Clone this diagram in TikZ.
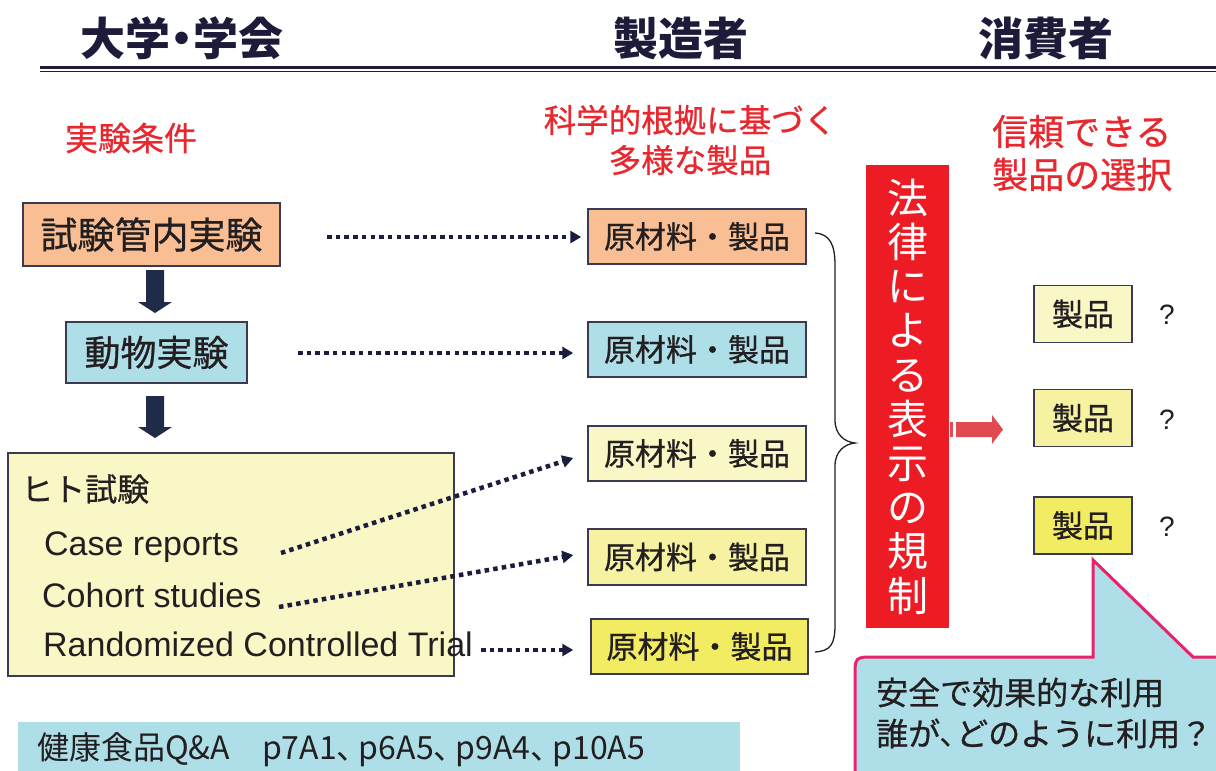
\documentclass[tikz,border=0pt]{standalone}
\usepackage{fontspec}
\setmainfont{Liberation Sans}
\newfontfamily\jp{Noto Sans CJK JP}
\newfontfamily\jpf{Noto Sans CJK JP}[FakeBold=0.7]
\newfontfamily\jpp{Noto Sans CJK JP}[RawFeature=+palt]
\usetikzlibrary{arrows.meta}
\definecolor{peach}{HTML}{F9BE93}
\definecolor{lblue}{HTML}{AEDEE8}
\definecolor{lyel}{HTML}{FAF7C7}
\definecolor{myel}{HTML}{F6F2A2}
\definecolor{dyel}{HTML}{F2EC62}
\definecolor{bord}{HTML}{3A3A55}
\definecolor{navy}{HTML}{1F2B48}
\definecolor{dotc}{HTML}{1B1D3F}
\definecolor{redbox}{HTML}{ED1C24}
\definecolor{redtxt}{HTML}{E8282F}
\definecolor{arrred}{HTML}{DF4B50}
\definecolor{pinkc}{HTML}{E6236D}
\definecolor{txt}{HTML}{231F20}
\definecolor{titlec}{HTML}{1C1C3A}
\tikzset{
  titlef/.style={inner sep=0pt, text=titlec, font=\jpp\bfseries\fontsize{45}{45}\selectfont},
  redhead/.style={inner sep=0pt, text=redtxt, font=\jpf\fontsize{32.5}{40}\selectfont},
  box/.style={draw=bord, line width=1.5pt, inner sep=0pt, text=txt, font=\jpf\fontsize{31}{31}\selectfont},
  latin/.style={inner sep=0pt, anchor=base west, text=txt, font=\fontsize{34}{34}\selectfont},
  dotarrow/.style={draw=dotc, line width=4.5pt, dash pattern=on 4.5pt off 4.2pt, -{Triangle[length=11pt,width=12pt]}},
  qmark/.style={inner sep=0pt, text=txt, font=\fontsize{28}{28}\selectfont},
}
\newcommand{\tten}{、\hspace{6pt}}
\begin{document}
\begin{tikzpicture}[x=1pt,y=-1pt]
\useasboundingbox (0,0) rectangle (1216,771);
\clip (0,0) rectangle (1216,771);
\fill[white] (0,0) rectangle (1216,771);

% titles
\node[titlef] (t1) at (182,38) {大学・学会};
\node[titlef] (t2) at (681,38) {製造者};
\node[titlef] (t3) at (1046,38) {消費者};
\draw[titlec, line width=3pt] (40,67) -- (1216,67);
\draw[titlec, line width=1.3pt] (40,71.5) -- (1216,71.5);

% red headings
\node[redhead, font=\jpf\fontsize{33}{33}\selectfont] (h1) at (131,138) {実験条件};
\node[redhead, align=center] (h2) at (690,140) {科学的根拠に基づく\\多様な製品};
\node[redhead, align=left, anchor=west, font=\jpf\fontsize{36}{43}\selectfont] (h3) at (992,153) {信頼できる\\製品の選択};

% left column
\node[box, fill=peach, minimum width=257pt, minimum height=63pt, font=\jpf\fontsize{37}{37}\selectfont] (tube) at (151.5,234.5) {試験管内実験};
\node[box, fill=lblue, minimum width=181pt, minimum height=61pt, font=\jpf\fontsize{36}{36}\selectfont] (animal) at (156.5,352.5) {動物実験};
\node[box, fill=lyel, minimum width=446pt, minimum height=223pt] (human) at (231,564.5) {};
\node[inner sep=0pt, anchor=west, text=txt, font=\jpf\fontsize{32}{32}\selectfont] (ht) at (21,489) {ヒト試験};
\node[latin] (cr) at (44,555) {Case reports};
\node[latin] (co) at (42,607) {Cohort studies};
\node[latin] (rct) at (43,656) {Randomized Controlled Trial};

% block arrows down
\fill[navy] (146,270) -- (164,270) -- (164,302) -- (172,302) -- (155,313) -- (138,302) -- (146,302) -- cycle;
\fill[navy] (146,396) -- (164,396) -- (164,427) -- (172,427) -- (155,438) -- (138,427) -- (146,427) -- cycle;

% products
\node[box, fill=peach, minimum width=218pt, minimum height=55pt] (p1) at (697,236.5) {原材料・製品};
\node[box, fill=lblue, minimum width=218pt, minimum height=55pt] (p2) at (697,349.5) {原材料・製品};
\node[box, fill=lyel, minimum width=218pt, minimum height=55pt] (p3) at (697,453.5) {原材料・製品};
\node[box, fill=myel, minimum width=218pt, minimum height=56pt] (p4) at (697,557) {原材料・製品};
\node[box, fill=dyel, minimum width=217pt, minimum height=55pt] (p5) at (699.5,646.5) {原材料・製品};

% dotted arrows
\coordinate (s1) at (327,237);
\coordinate (s2) at (298,353);
\coordinate (s3) at (281,553);
\coordinate (s4) at (279,607);
\coordinate (s5) at (481,650);
\draw[dotarrow] (s1) -- ([shift={(-6,0.5)}]p1.west);
\draw[dotarrow] (s2) -- ([shift={(-14,3.5)}]p2.west);
\draw[dotarrow] (s3) -- ([shift={(-14,4.5)}]p3.west);
\draw[dotarrow] (s4) -- ([shift={(-14,-2)}]p4.west);
\draw[dotarrow] (s5) -- ([shift={(-17,3.5)}]p5.west);

% brace
\draw[txt, line width=1.3pt] (815,233) .. controls (830,234) and (835,245) .. (835,265) -- (835,420)
  .. controls (835,435) and (845,442) .. (855,443) .. controls (845,444) and (835,451) .. (835,466)
  -- (835,625) .. controls (835,645) and (830,651) .. (815,652);

% red law box
\node[fill=redbox, minimum width=83pt, minimum height=463pt, inner sep=0pt, text=white, align=center,
  font=\jp\fontsize{41}{44.2}\selectfont] (law) at (907.5,396.5) {法\\律\\に\\よ\\る\\表\\示\\の\\規\\制};

% red arrow
\fill[arrred] (950,422) rectangle (953,437);
\fill[arrred] (956,422) -- (992,422) -- (992,415) -- (1003,429.5) -- (992,444) -- (992,437) -- (956,437) -- cycle;

% consumer products
\node[box, fill=lyel, minimum width=98pt, minimum height=57pt] (c1) at (1083,314) {製品};
\node[box, fill=myel, minimum width=98pt, minimum height=57pt] (c2) at (1083,418) {製品};
\node[box, fill=dyel, minimum width=98pt, minimum height=57pt] (c3) at (1083,525.5) {製品};
\node[qmark] (q1) at (1167,315) {?};
\node[qmark] (q2) at (1167,420) {?};
\node[qmark] (q3) at (1167,527) {?};

% callout
\filldraw[fill=lblue, draw=pinkc, line width=3pt] (1093,657) -- (1093,560) -- (1193,657) -- (1250,657) -- (1250,800) -- (855,800) -- (855,677) .. controls (855,657) .. (875,657) -- cycle;
\node[inner sep=0pt, anchor=west, align=left, text=txt, font=\jpf\fontsize{32}{41}\selectfont] (call) at (876,713) {安全で効果的な利用\\誰が{\jpp\fontsize{32}{41}\selectfont 、}どのように利用？};

% bottom reference
\node[fill=lblue, anchor=north west, minimum width=722pt, minimum height=60pt, inner sep=0pt] (ref) at (18,722) {};
\node[inner sep=0pt, anchor=west, text=txt, font=\jpp\fontsize{32}{32}\selectfont] (reft) at (37,750) {健康食品Q\&A\hspace{32pt}p7A1\tten p6A5\tten p9A4\tten p10A5};
\end{tikzpicture}
\end{document}
